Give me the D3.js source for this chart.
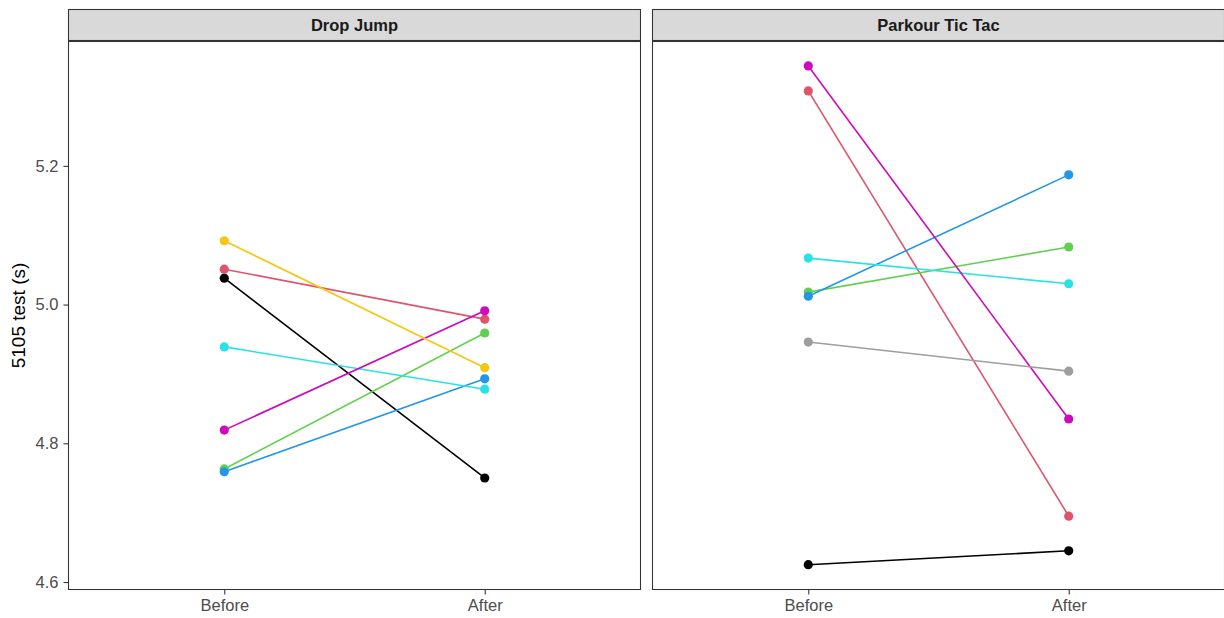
<!DOCTYPE html>
<html><head><meta charset="utf-8">
<script src="https://cdn.jsdelivr.net/npm/d3@7"></script>
<style>body{margin:0;background:#fff}svg{display:block;font-family:"Liberation Sans",Arial,sans-serif}</style>
</head><body><svg id="c" width="1224" height="618"></svg>
<script>
const panels = ["Drop Jump", "Parkour Tic Tac"];
const times = ["Before", "After"];
const subjectColors = ["#000000", "#DF536B", "#61D04F", "#2297E6", "#28E2E5", "#CD0BBC", "#F5C710", "#9E9E9E"];
// Drop Jump: [before, after] per subject (colour index)
const dropJumpSubjects = [0, 1, 2, 3, 4, 5, 6];
const dropJumpBefore = [5.038, 5.051, 4.763, 4.759, 4.939, 4.819, 5.092];
const dropJumpAfter  = [4.750, 4.979, 4.959, 4.893, 4.878, 4.991, 4.909];
// Parkour Tic Tac
const ticTacSubjects = [0, 1, 2, 3, 4, 5, 7];
const ticTacBefore = [4.625, 5.308, 5.018, 5.012, 5.067, 5.344, 4.946];
const ticTacAfter  = [4.645, 4.695, 5.083, 5.187, 5.030, 4.835, 4.904];
const yTicks = [4.6, 4.8, 5.0, 5.2];
const yTitle = "5105 test (s)";

const svg = d3.select("#c");
const panelData = [
  {name: panels[0], subj: dropJumpSubjects, before: dropJumpBefore, after: dropJumpAfter},
  {name: panels[1], subj: ticTacSubjects, before: ticTacBefore, after: ticTacAfter}
];
const pTop = 41, pBottom = 590, stripTop = 9;
const panelX = [68, 652], panelW = 573;
const fs = 16.5;
const y = d3.scaleLinear().domain([4.5885, 5.3800]).range([pBottom, pTop]);

panelData.forEach((p, i) => {
  const x0 = panelX[i];
  const x = d3.scalePoint().domain(times).range([x0, x0 + panelW]).padding(0.6);
  const g = svg.append("g");
  g.append("rect").attr("x", x0 + 0.5).attr("y", stripTop + 0.5).attr("width", panelW - 1).attr("height", pTop - stripTop - 1)
    .attr("fill", "#D9D9D9").attr("stroke", "#333333").attr("stroke-width", 1.07);
  g.append("text").attr("x", x0 + panelW / 2).attr("y", 31).attr("text-anchor", "middle")
    .attr("font-size", fs).attr("font-weight", "bold").attr("fill", "#1A1A1A").text(p.name);
  p.subj.forEach((s, j) => {
    g.append("line").attr("x1", x("Before")).attr("x2", x("After"))
      .attr("y1", y(p.before[j])).attr("y2", y(p.after[j]))
      .attr("stroke", subjectColors[s]).attr("stroke-width", 1.6);
  });
  p.subj.forEach((s, j) => {
    [["Before", p.before[j]], ["After", p.after[j]]].forEach(([t, v]) => {
      g.append("circle").attr("cx", x(t)).attr("cy", y(v)).attr("r", 4.6).attr("fill", subjectColors[s]);
    });
  });
  g.append("rect").attr("x", x0 + 0.5).attr("y", pTop + 0.5).attr("width", panelW - 1).attr("height", pBottom - pTop - 1)
    .attr("fill", "none").attr("stroke", "#333333").attr("stroke-width", 1.07);
  const xa = g.append("g").attr("transform", `translate(0,${pBottom})`)
    .call(d3.axisBottom(x).tickSize(4.5).tickPadding(5));
  xa.select(".domain").remove();
  xa.selectAll("line").attr("stroke", "#333333").attr("stroke-width", 1.07);
  xa.selectAll("text").attr("font-size", fs).attr("fill", "#4D4D4D").attr("font-family", "Liberation Sans, Arial, sans-serif");
});

const ya = svg.append("g").attr("transform", `translate(${panelX[0]},0)`)
  .call(d3.axisLeft(y).tickValues(yTicks).tickFormat(d3.format(".1f")).tickSize(4.5).tickPadding(5));
ya.select(".domain").remove();
ya.selectAll("line").attr("stroke", "#333333").attr("stroke-width", 1.07);
ya.selectAll("text").attr("font-size", fs).attr("fill", "#4D4D4D").attr("font-family", "Liberation Sans, Arial, sans-serif");

svg.append("text").attr("transform", `translate(25,${(pTop + pBottom) / 2}) rotate(-90)`)
  .attr("text-anchor", "middle").attr("font-size", 19).attr("fill", "#000").text(yTitle);
</script></body></html>
